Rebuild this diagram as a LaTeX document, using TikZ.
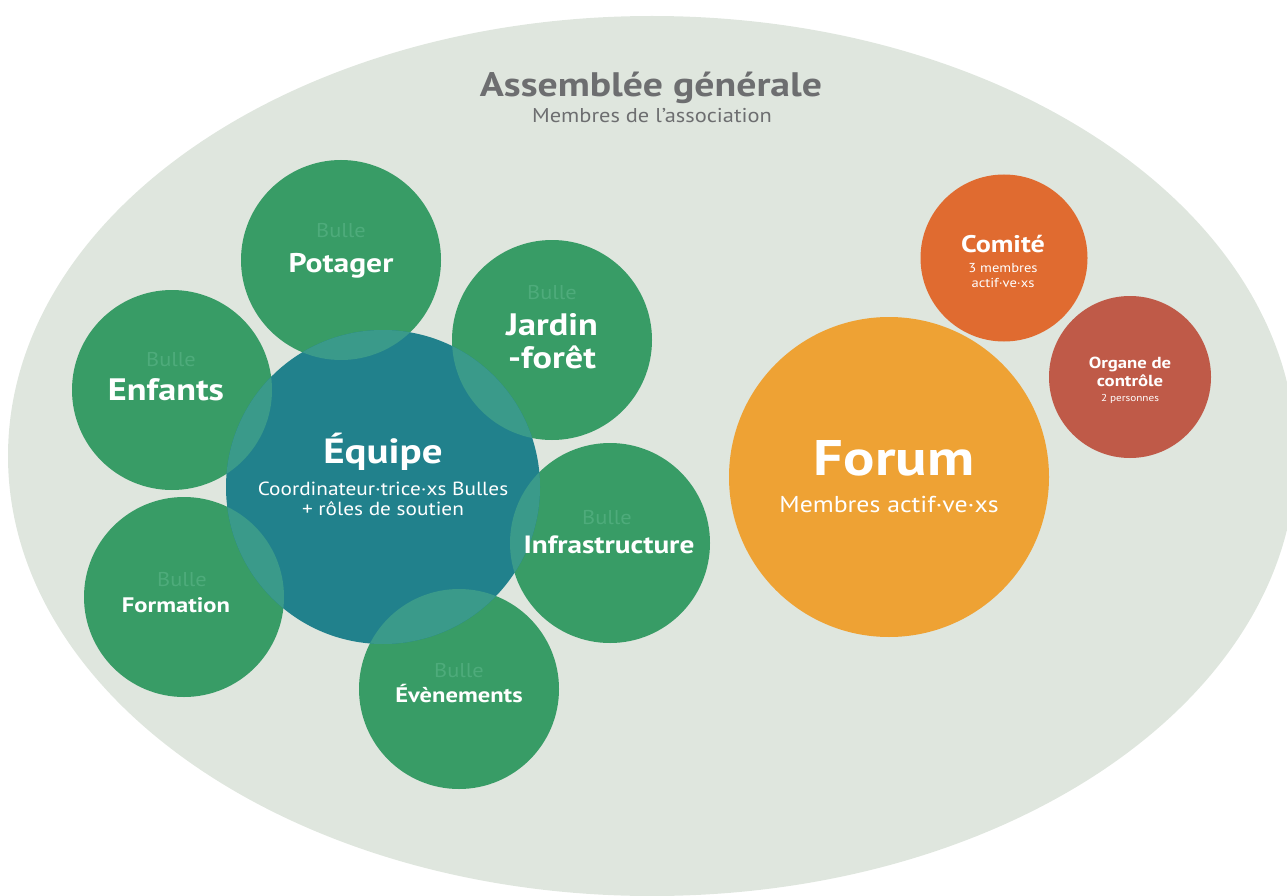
\documentclass[tikz,border=0pt]{standalone}
\usepackage{fontspec}
\setmainfont{PT Sans}[FakeStretch=1.12,BoldFeatures={FakeStretch=1.17}]
\definecolor{agbg}{HTML}{DFE6DE}
\definecolor{bgreen}{HTML}{389C66}
\definecolor{bteal}{HTML}{21818C}
\definecolor{boverlap}{HTML}{3A9A8A}
\definecolor{bullegreen}{HTML}{4EAB7B}
\definecolor{forumorange}{HTML}{EEA234}
\definecolor{comiteorange}{HTML}{E06B30}
\definecolor{organered}{HTML}{BF5A48}
\definecolor{greytext}{HTML}{6D6E70}
\newcommand{\fsz}[1]{\fontsize{#1}{#1}\selectfont}
\begin{document}
\begin{tikzpicture}[x=1pt,y=-1pt,
  bubble/.style={circle,fill=bgreen,draw=none,inner sep=0pt,minimum size=200pt},
  bulletxt/.style={anchor=base,text=bullegreen,inner sep=0pt,font=\fsz{20}},
  titletxt/.style={anchor=base,text=white,inner sep=0pt,font=\bfseries\fsz{#1}},
  subtxt/.style={anchor=base,text=white,inner sep=0pt,font=\fsz{#1}}]
\useasboundingbox (0,0) rectangle (1287,896);
\clip (0,0) rectangle (1287,896);
% Assemblee generale
\fill[agbg] (652,456) ellipse [x radius=644pt, y radius=440pt];
\node[anchor=base,text=greytext,inner sep=0pt,font=\bfseries\fsz{34}] (agt) at (651,97) {Assemblée générale};
\node[anchor=base,text=greytext,inner sep=0pt,font=\fsz{20}] (ags) at (652,123) {Membres de l’association};
% green bubbles
\node[bubble] (potager) at (341,260) {};
\node[bubble] (jardin) at (552,340) {};
\node[bubble] (enfants) at (172,390) {};
\node[bubble] (infra) at (610,543) {};
\node[bubble] (formation) at (184,597) {};
\node[bubble] (evenements) at (459,689) {};
% equipe
\node[circle,fill=bteal,inner sep=0pt,minimum size=314pt] (equipe) at (383,487) {};
\begin{scope}
  \clip (383,487) circle [radius=157pt];
  \foreach \c in {(341,260),(552,340),(172,390),(610,543),(184,597),(459,689)}
    \fill[boverlap] \c circle [radius=100pt];
\end{scope}
% right side
\node[circle,fill=forumorange,inner sep=0pt,minimum size=320pt] (forum) at (889,477) {};
\node[circle,fill=comiteorange,inner sep=0pt,minimum size=167pt] (comite) at (1004,258) {};
\node[circle,fill=organered,inner sep=0pt,minimum size=162pt] (organe) at (1130,377) {};
% texts
\node[bulletxt] (b1) at (341,237) {Bulle};
\node[titletxt=27] (t1) at (341,272) {Potager};
\node[bulletxt] (b2) at (552,299) {Bulle};
\node[titletxt=31] (t2a) at (552,335) {Jardin};
\node[titletxt=31] (t2b) at (552,368) {-forêt};
\node[bulletxt] (b3) at (171,366) {Bulle};
\node[titletxt=31] (t3) at (166,400) {Enfants};
\node[bulletxt] (b4) at (607,524) {Bulle};
\node[titletxt=25] (t4) at (609,553) {Infrastructure};
\node[bulletxt] (b5) at (182,586) {Bulle};
\node[titletxt=21] (t5) at (176,612) {Formation};
\node[bulletxt] (b6) at (459,677) {Bulle};
\node[titletxt=21] (t6) at (459,702) {Évènements};
\node[titletxt=35] (t7) at (383,463) {Équipe};
\node[subtxt=19] (s7a) at (383,495) {Coordinateur·trice·xs Bulles};
\node[subtxt=19] (s7b) at (383,515) {+ rôles de soutien};
\node[titletxt=50] (t8) at (894,475) {Forum};
\node[subtxt=23] (s8) at (889,512) {Membres actif·ve·xs};
\node[titletxt=24] (t9) at (1003,252) {Comité};
\node[subtxt=13] (s9a) at (1003,272) {3 membres};
\node[subtxt=13] (s9b) at (1003,287) {actif·ve·xs};
\node[titletxt=16] (t10a) at (1130,368) {Organe de};
\node[titletxt=16] (t10b) at (1130,386) {contrôle};
\node[subtxt=10] (s10) at (1130,401) {2 personnes};
\end{tikzpicture}
\end{document}
